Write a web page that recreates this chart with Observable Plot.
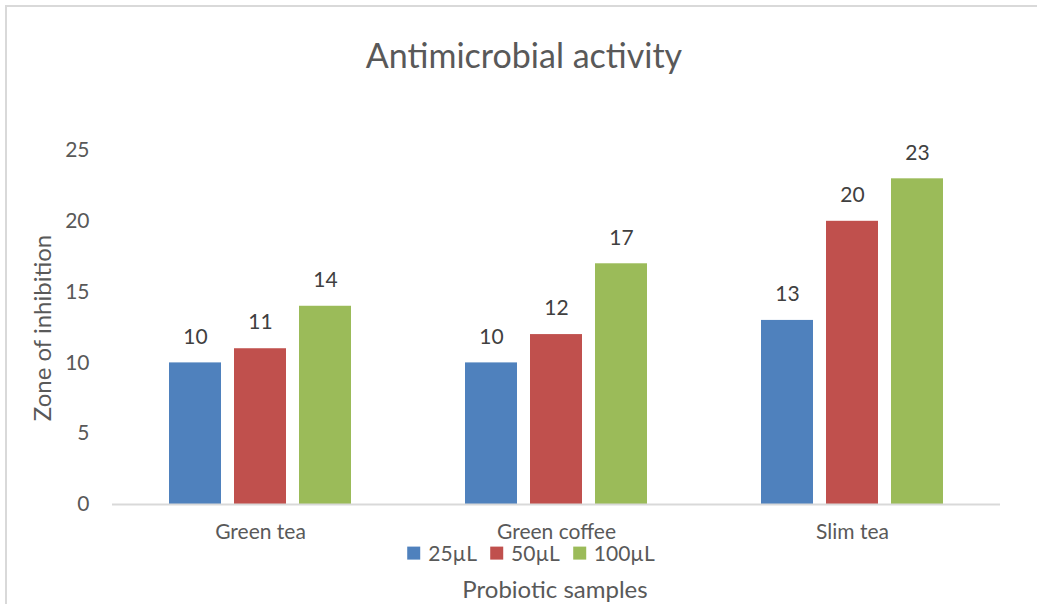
<!DOCTYPE html>
<html>
<head>
<meta charset="utf-8">
<script src="https://cdn.jsdelivr.net/npm/d3@7"></script>
<script src="https://cdn.jsdelivr.net/npm/@observablehq/plot@0.6"></script>
<style>
  html, body { margin: 0; padding: 0; background: #fff; }
  #wrap { position: relative; width: 1037px; height: 604px; overflow: hidden; font-family: Lato, "Open Sans", sans-serif; color: #595959; }
  #frame { position: absolute; left: 5px; top: 5px; width: 1100px; height: 700px; border-left: 2px solid #d9d9d9; border-top: 2px solid #d9d9d9; }
  #chart { position: absolute; left: 0; top: 0; }
  .lbl { position: absolute; transform: translate(-50%, -50%); white-space: nowrap; line-height: 1; }
  #legend { position: absolute; left: 531px; top: 553px; transform: translate(-50%, -50%); display: flex; align-items: center; gap: 13px; font-size: 21px; line-height: 0.8; white-space: nowrap; }
  #legend .item { display: flex; align-items: center; gap: 8px; }
  #legend .sw { width: 13px; height: 13px; display: inline-block; }
</style>
</head>
<body>
<div id="wrap">
  <div id="frame"></div>
  <div id="chart"></div>
  <div class="lbl" style="left:524px; top:55px; font-size:34px;">Antimicrobial activity</div>
  <div class="lbl" style="left:42px; top:328px; font-size:24px; transform: translate(-50%, -50%) rotate(-90deg);">Zone of inhibition</div>
  <div class="lbl" style="left:555px; top:589px; font-size:24px;">Probiotic samples</div>
  <div id="legend"></div>
</div>
<script>
const samples = ["Green tea", "Green coffee", "Slim tea"];
const doses = ["25µL", "50µL", "100µL"];
const colors = ["#4F81BD", "#C0504D", "#9BBB59"];
const values25 = [10, 10, 13];
const values50 = [11, 12, 20];
const values100 = [14, 17, 23];
const yTicks = [0, 5, 10, 15, 20, 25];

const series = [values25, values50, values100];
const data = [];
samples.forEach((s, i) => {
  doses.forEach((d, j) => {
    data.push({ sample: s, dose: d, value: series[j][i] });
  });
});

const plot = Plot.plot({
  width: 1037,
  height: 604,
  marginTop: 150,
  marginBottom: 100,
  marginLeft: 112,
  marginRight: 37,
  style: { fontFamily: "Lato, 'Open Sans', sans-serif", fontSize: "21px", color: "#595959", background: "transparent" },
  fx: { domain: samples, padding: 0, axis: "bottom", label: null, tickSize: 0, tickPadding: 20, fontSize: 22 },
  x: { domain: doses, paddingInner: 0.2, paddingOuter: 0.86, axis: null },
  y: { domain: [0, 25], ticks: yTicks, tickSize: 0, tickPadding: 23, label: null, line: false },
  color: { domain: doses, range: colors },
  marks: [
    Plot.barY(data, { fx: "sample", x: "dose", y: "value", fill: "dose" }),
    Plot.ruleY([0], { stroke: "#d9d9d9", strokeWidth: 2 }),
    Plot.text(data, { fx: "sample", x: "dose", y: "value", text: d => String(d.value), dy: -26, fill: "#404040", fontSize: 21 })
  ]
});
document.getElementById("chart").appendChild(plot);

const legend = document.getElementById("legend");
doses.forEach((d, i) => {
  const item = document.createElement("div");
  item.className = "item";
  const sw = document.createElement("span");
  sw.className = "sw";
  sw.style.background = colors[i];
  const t = document.createElement("span");
  t.textContent = d;
  item.appendChild(sw);
  item.appendChild(t);
  legend.appendChild(item);
});
</script>
</body>
</html>
